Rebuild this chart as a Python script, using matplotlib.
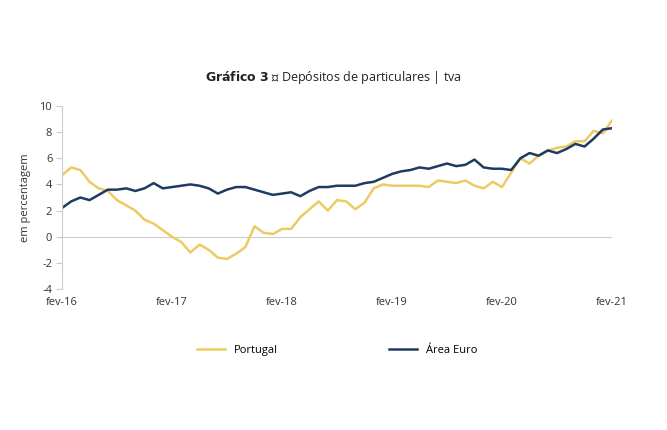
import matplotlib
matplotlib.use("Agg")
import matplotlib.pyplot as plt
plt.rcParams["font.family"] = "Open Sans"
plt.rcParams["axes.unicode_minus"] = False

portugal = [4.7,5.3,5.1,4.2,3.7,3.5,2.8,2.4,2.0,1.3,
            1.0,0.5,0.0,-0.4,-1.2,-0.6,-1.0,-1.6,-1.7,-1.3,
            -0.8,0.8,0.3,0.2,0.6,0.6,1.5,2.1,2.7,2.0,
            2.8,2.7,2.1,2.6,3.7,4.0,3.9,3.9,3.9,3.9,
            3.8,4.3,4.2,4.1,4.3,3.9,3.7,4.2,3.8,4.9,
            6.0,5.6,6.2,6.6,6.8,6.9,7.3,7.3,8.1,7.9,8.9]
euro = [2.2,2.7,3.0,2.8,3.2,3.6,3.6,3.7,3.5,3.7,
        4.1,3.7,3.8,3.9,4.0,3.9,3.7,3.3,3.6,3.8,
        3.8,3.6,3.4,3.2,3.3,3.4,3.1,3.5,3.8,3.8,
        3.9,3.9,3.9,4.1,4.2,4.5,4.8,5.0,5.1,5.3,
        5.2,5.4,5.6,5.4,5.5,5.9,5.3,5.2,5.2,5.1,
        6.0,6.4,6.2,6.6,6.4,6.7,7.1,6.9,7.5,8.2,8.3]
xticklabels = ["fev-16","fev-17","fev-18","fev-19","fev-20","fev-21"]
yticks = [-4,-2,0,2,4,6,8,10]

fig = plt.figure(figsize=(6.67,4.30), dpi=100)
ax = fig.add_axes([62/667, 1-289/430, 550/667, 183/430])
x = list(range(len(portugal)))
ax.plot(x, portugal, color="#EDCB62", lw=1.8, label="Portugal")
ax.plot(x, euro, color="#1F3B63", lw=1.8, label="Área Euro")
ax.axhline(0, color="#cccccc", lw=0.8, zorder=0)
ax.set_xlim(0, 60)
ax.set_ylim(-4, 10)
ax.set_yticks(yticks)
ax.set_yticklabels([str(v) for v in yticks])
ax.set_xticks(range(0, 61, 12))
ax.set_xticklabels(xticklabels)
for s in ["top","right","bottom"]:
    ax.spines[s].set_visible(False)
ax.spines["left"].set_color("#cccccc")
ax.tick_params(axis="both", length=0, labelsize=8, colors="#333333", pad=6)
ax.tick_params(axis="y", length=4, color="#cccccc", pad=3)
ax.set_ylabel("em percentagem", fontsize=8, color="#333333", labelpad=6)
fig.text(0.5, 1-78/430, r"$\bf{Gráfico\ 3}$ ● Depósitos de particulares | tva",
         ha="center", va="center", fontsize=9, color="#222222")
ax.legend(loc="upper center", bbox_to_anchor=(0.5, -0.25), ncol=2, frameon=False,
          fontsize=8, handlelength=2.5, columnspacing=10)
fig.savefig("out.png", dpi=100)
